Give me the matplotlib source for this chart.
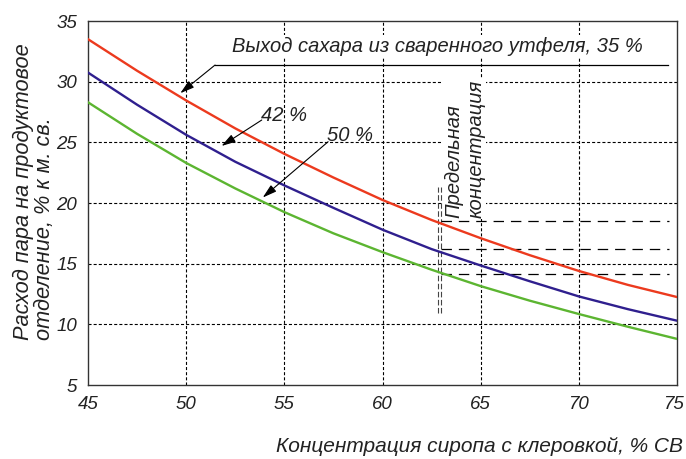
import matplotlib
matplotlib.use("Agg")
import matplotlib.pyplot as plt
from matplotlib import font_manager
from matplotlib.transforms import ScaledTranslation

# --- data -------------------------------------------------------------
conc = [45, 47.5, 50, 52.5, 55, 57.5, 60, 62.5, 65, 67.5, 70, 72.5, 75]
steam_35 = [33.5, 30.9, 28.45, 26.15, 24.05, 22.1, 20.25, 18.6, 17.1, 15.7, 14.4, 13.25, 12.25]
steam_42 = [30.75, 28.1, 25.62, 23.4, 21.45, 19.6, 17.8, 16.2, 14.85, 13.55, 12.3, 11.25, 10.3]
steam_50 = [28.3, 25.7, 23.3, 21.2, 19.25, 17.5, 15.95, 14.5, 13.15, 11.95, 10.85, 9.8, 8.8]
limit_conc = 63.0
limit_levels = [18.5, 16.25, 14.15]
x_ticks = [45, 50, 55, 60, 65, 70, 75]
y_ticks = [5, 10, 15, 20, 25, 30, 35]

RED = "#ec3a1e"
BLUE = "#2f1f8e"
GREEN = "#5cb531"

names = {f.name for f in font_manager.fontManager.ttflist}
FONT = "Liberation Sans" if "Liberation Sans" in names else "DejaVu Sans"
TICK_FONT = "Liberation Sans Narrow" if "Liberation Sans Narrow" in names else FONT
TICK_SIZE = 16 if TICK_FONT == "Liberation Sans Narrow" else 13.5
plt.rcParams["font.family"] = [FONT, "DejaVu Sans"]
plt.rcParams["font.style"] = "italic"
plt.rcParams["lines.scale_dashes"] = False

W, H = 686, 459
fig = plt.figure(figsize=(W / 100, H / 100), dpi=100)
ax = fig.add_axes([88 / W, 1 - 385 / H, (677 - 88) / W, (385 - 21) / H])
ax.set_xlim(45, 75)
ax.set_ylim(5, 35)

# dashed grid
for xv in x_ticks[1:-1]:
    ax.plot([xv, xv], [5, 35], color="black", lw=0.8, dashes=(2.2, 1.5), zorder=1)
for yv in y_ticks[1:-1]:
    ax.plot([45, 75], [yv, yv], color="black", lw=0.8, dashes=(2.2, 1.5), zorder=1)

# curves
for ys, col in ((steam_35, RED), (steam_42, BLUE), (steam_50, GREEN)):
    ax.plot(conc, ys, color=col, lw=1.7, zorder=4, solid_joinstyle="round")

# limiting concentration marker and levels
for xv in (limit_conc - 0.15, limit_conc):
    ax.plot([xv, xv], [10.9, 21.3], color="#444444", lw=0.8, dashes=(4, 1.8), zorder=3)
for lv in limit_levels:
    ax.plot([limit_conc, 74.6], [lv, lv], color="black", lw=0.9, dashes=(7.5, 5), zorder=3)

ax.text(64.2, 18.75, "Предельная\nконцентрация", rotation=90, ha="center", va="bottom",
        multialignment="left", fontsize=14.5, zorder=5, color="#222222",
        bbox=dict(boxstyle="square,pad=0.05", fc="white", ec="none"))

# annotations
ax.text(62.8, 32.9, "Выход сахара из сваренного утфеля, 35 %", ha="center", va="center",
        fontsize=14.5, zorder=5, color="#222222",
        bbox=dict(boxstyle="square,pad=0.1", fc="white", ec="none"))
ax.plot([51.47, 74.55], [31.37, 31.37], color="black", lw=0.9, zorder=5)
arrow = dict(arrowstyle="-|>,head_length=0.85,head_width=0.25", color="black", lw=0.8,
             shrinkA=0, shrinkB=0)
ax.annotate("", xy=(49.7, 29.05), xytext=(51.47, 31.37), arrowprops=arrow, zorder=5)
ax.text(54.98, 27.2, "42 %", ha="center", va="center", fontsize=14.5, zorder=5,
        color="#222222")
ax.annotate("", xy=(51.8, 24.7), xytext=(53.85, 26.84), arrowprops=arrow, zorder=5)
ax.text(58.35, 25.6, "50 %", ha="center", va="center", fontsize=14.5, zorder=5,
        color="#222222")
ax.annotate("", xy=(53.9, 20.45), xytext=(57.23, 25.05), arrowprops=arrow, zorder=5)

# axes styling
for s in ax.spines.values():
    s.set_color("#333333")
    s.set_linewidth(1.0)
ax.set_xticks(x_ticks)
ax.set_yticks(y_ticks)
ax.tick_params(length=0, pad=8, colors="#222222")
for lab in ax.get_xticklabels() + ax.get_yticklabels():
    lab.set_fontfamily([TICK_FONT, "DejaVu Sans"])
    lab.set_fontsize(TICK_SIZE)
    lab.set_fontstyle("italic")
# keep the last x label inside the figure edge
last = ax.get_xticklabels()[-1]
last.set_transform(last.get_transform() + ScaledTranslation(-4 / 100, 0, fig.dpi_scale_trans))

fig.text(683 / W, 1 - 447 / H, "Концентрация сиропа с клеровкой, % СВ", ha="right",
         va="center", fontsize=15, color="#222222")
fig.text(34 / W, 1 - 340 / H, "Расход пара на продуктовое\nотделение, % к м. св.",
         rotation=90, ha="center", va="bottom", multialignment="left",
         fontsize=15.7, color="#222222", linespacing=1.0)

fig.savefig("out.png", dpi=100)
